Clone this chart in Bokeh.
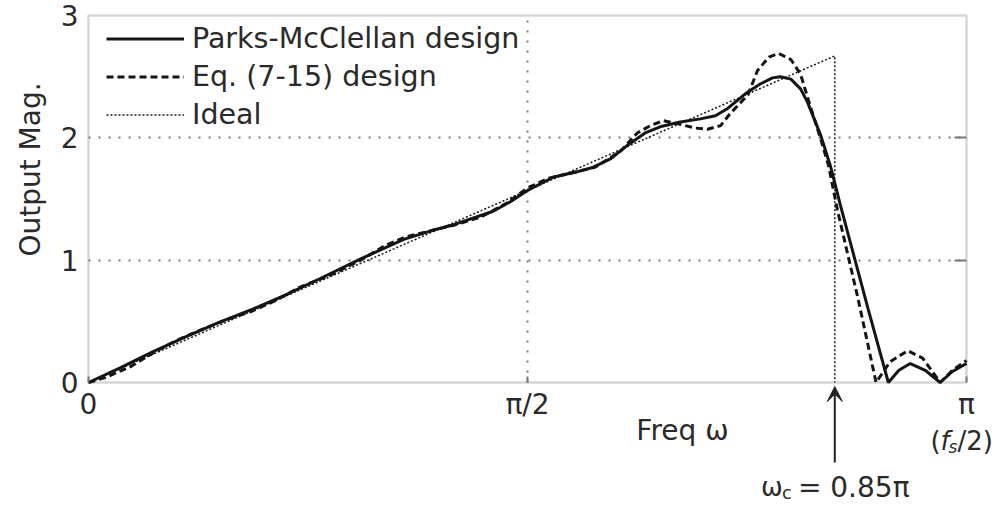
from bokeh.plotting import figure
from bokeh.models import (Range1d, FixedTicker, Label, Arrow, VeeHead,
                          Legend, LegendItem, BoxAnnotation, Grid)
from bokeh.embed import file_html
from bokeh.resources import INLINE

FONT = "DejaVu Sans"
TXT = "#2a2a2a"

# frequency in units of pi (0 .. 1 -> 0 .. pi)
pm_x = [0.000, 0.036, 0.073, 0.110, 0.148, 0.187, 0.224, 0.264, 0.310, 0.359, 0.390,
        0.416, 0.461, 0.481, 0.500, 0.530, 0.555, 0.575, 0.595, 0.614, 0.634, 0.651,
        0.674, 0.697, 0.714, 0.728, 0.748, 0.765, 0.779, 0.788, 0.800, 0.811, 0.819,
        0.834, 0.845, 0.856, 0.866, 0.888, 0.911, 0.923, 0.936, 0.953, 0.970, 0.984, 1.000]
pm_y = [0.00, 0.12, 0.25, 0.37, 0.49, 0.60, 0.715, 0.85, 1.01, 1.17, 1.24,
        1.29, 1.40, 1.48, 1.57, 1.68, 1.72, 1.76, 1.83, 1.94, 2.04, 2.09,
        2.13, 2.155, 2.18, 2.24, 2.36, 2.44, 2.49, 2.50, 2.48, 2.40, 2.29,
        2.02, 1.77, 1.46, 1.19, 0.60, 0.00, 0.10, 0.155, 0.10, 0.00, 0.09, 0.155]

eq_x = [0.000, 0.019, 0.048, 0.073, 0.099, 0.128, 0.156, 0.185, 0.213, 0.241, 0.276,
        0.310, 0.338, 0.361, 0.390, 0.418, 0.446, 0.475, 0.500, 0.524, 0.549, 0.577,
        0.606, 0.625, 0.640, 0.655, 0.674, 0.691, 0.705, 0.720, 0.731, 0.751, 0.762,
        0.775, 0.786, 0.800, 0.811, 0.822, 0.834, 0.843, 0.853, 0.876, 0.897, 0.913,
        0.933, 0.950, 0.970, 0.984, 1.000]
eq_y = [0.00, 0.04, 0.13, 0.24, 0.34, 0.43, 0.51, 0.58, 0.67, 0.78, 0.88,
        1.00, 1.12, 1.19, 1.24, 1.29, 1.35, 1.46, 1.59, 1.67, 1.71, 1.76,
        1.89, 2.04, 2.10, 2.14, 2.11, 2.08, 2.07, 2.10, 2.20, 2.35, 2.55,
        2.66, 2.69, 2.64, 2.52, 2.26, 1.99, 1.77, 1.41, 0.70, 0.00, 0.17,
        0.26, 0.20, 0.00, 0.10, 0.18]

ideal_x = [0.0, 0.85, 0.85]
ideal_y = [0.0, 2.67, 0.0]

x_ticks = [0, 0.5, 1]
x_tick_labels = {0: "0", 0.5: "π/2", 1: "π"}
y_ticks = [0, 1, 2, 3]
x_grid = [0.5]
y_grid = [1, 2]
cutoff = 0.85

# the whole canvas is the frame; the plot box [0,1]x[0,3] sits inside it
p = figure(width=997, height=505, min_border=0,
           x_range=Range1d(-0.10023, 1.03531), y_range=Range1d(-1.00545, 3.12262),
           output_backend="svg", toolbar_location=None)
p.background_fill_color = "white"
p.border_fill_color = "white"
p.outline_line_color = None

p.add_layout(BoxAnnotation(left=0, right=1, bottom=0, top=3, fill_alpha=0,
                           line_color="#777777", line_width=2.5, level="underlay"))

# axes fixed onto the plot box
xa = p.xaxis[0]
ya = p.yaxis[0]
xa.fixed_location = 0
ya.fixed_location = 0
xa.ticker = FixedTicker(ticks=x_ticks)
xa.major_label_overrides = x_tick_labels
ya.ticker = FixedTicker(ticks=y_ticks)
for ax in (xa, ya):
    ax.axis_line_color = None
    ax.minor_tick_line_color = None
    ax.major_tick_out = 0
    ax.major_label_text_font = FONT
    ax.major_label_text_font_size = "28px"
    ax.major_label_text_color = TXT
xa.major_tick_in = 6
xa.major_tick_line_color = "#777777"
xa.major_tick_line_width = 2
xa.major_label_standoff = 5
ya.major_tick_in = 0
ya.major_label_standoff = 10

# grids limited to the plot box
gx = p.xgrid[0]
gy = p.ygrid[0]
gx.ticker = FixedTicker(ticks=x_grid)
gy.ticker = FixedTicker(ticks=y_grid)
gx.bounds = (0, 1)
gy.bounds = (0, 3)
gx.cross_bounds = (0, 3)
gy.cross_bounds = (0, 1)
for g in (gx, gy):
    g.grid_line_color = "#7a7a7a"
    g.grid_line_width = 2
    g.grid_line_dash = "2 8"

# short inward tick marks on the right edge of the box
p.add_layout(Grid(dimension=1, ticker=FixedTicker(ticks=y_grid), bounds=(0, 3),
                  cross_bounds=(0.9863, 1), grid_line_color="#777777", grid_line_width=2))

# curves
r_ideal = p.line(ideal_x, ideal_y, line_color="#1a1a1a", line_width=1.5, line_dash="2 2")
r_eq = p.line(eq_x, eq_y, line_color="#151515", line_width=3, line_dash="7 4")
r_pm = p.line(pm_x, pm_y, line_color="#151515", line_width=3)

legend = Legend(items=[LegendItem(label="Parks-McClellan design", renderers=[r_pm]),
                       LegendItem(label="Eq. (7-15) design", renderers=[r_eq]),
                       LegendItem(label="Ideal", renderers=[r_ideal])],
                location=(106, 373), border_line_color=None, background_fill_alpha=0,
                label_text_font=FONT, label_text_font_size="28.5px", label_text_color=TXT,
                glyph_width=78, glyph_height=35, label_height=35, spacing=3,
                padding=5, margin=0, label_standoff=8)
p.add_layout(legend)

def lab(x, y, text, size="28px", align="left", style="normal", angle=0):
    p.add_layout(Label(x=x, y=y, text=text, angle=angle,
                       text_font=FONT, text_font_size=size, text_color=TXT,
                       text_align=align, text_baseline="middle", text_font_style=style))

lab(-0.0661, 1.741, "Output Mag.", align="center", angle=1.5708)
lab(0.6765, -0.392, "Freq ω", align="center")

# (f_s/2) under pi
lab(0.959, -0.482, "(", size="26px")
lab(0.9704, -0.482, "f", size="26px", style="italic")
lab(0.9795, -0.531, "s", size="17px", style="italic")
lab(0.9897, -0.482, "/2)", size="26px")

# omega_c = 0.85 pi
lab(0.7660, -0.858, "ω", size="26px")
lab(0.7900, -0.900, "c", size="18px")
lab(0.8080, -0.858, "= 0.85π")

p.add_layout(Arrow(end=VeeHead(size=15, fill_color="#222222", line_color="#222222"),
                   x_start=cutoff, y_start=-0.654, x_end=cutoff, y_end=-0.033,
                   line_color="#222222", line_width=2))

open("out.html", "w").write(file_html(p, INLINE))
